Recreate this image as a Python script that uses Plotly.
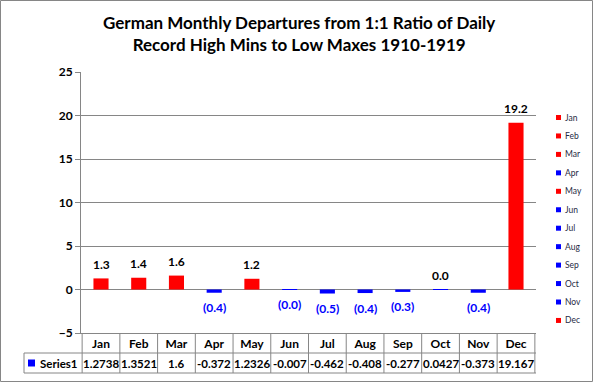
import plotly.graph_objects as go

# ---- data ----
months = ["Jan", "Feb", "Mar", "Apr", "May", "Jun", "Jul", "Aug", "Sep", "Oct", "Nov", "Dec"]
values = [1.2738, 1.3521, 1.6, -0.372, 1.2326, -0.007, -0.462, -0.408, -0.277, 0.0427, -0.373, 19.167]
series_name = "Series1"
y_ticks = [-5, 0, 5, 10, 15, 20, 25]
title_text = "German Monthly Departures from 1:1 Ratio of Daily<br>Record High Mins to Low Maxes 1910-1919"

# ---- styles ----
RED, BLUE = "#FF0000", "#0000FF"
bar_colors = [RED, RED, RED, BLUE, RED, BLUE, BLUE, BLUE, BLUE, BLUE, BLUE, RED]
GRID = "#868686"
FONT = "Lato"

W, H = 593, 382
L, R, T, B = 81, 57, 72, 49
PW, PH = W - L - R, H - T - B


def xp(px):
    return (px - L) / PW


def yp(py):
    return (H - B - py) / PH


def label(v):
    return f"{v:.1f}" if v >= 0 else f"({abs(v):.1f})"


fig = go.Figure()
fig.add_trace(go.Bar(x=months, y=values, marker_color=bar_colors, marker_line_width=0,
                     width=0.4, showlegend=False, hoverinfo="x+y"))

annotations = []
shapes = []

# title
annotations.append(dict(x=xp(298.5), y=yp(33), xref="paper", yref="paper", text=title_text,
                        showarrow=False, xanchor="center", yanchor="middle",
                        font=dict(family=FONT, size=17, weight="bold", color="#000000")))

# data labels
for m, v in zip(months, values):
    annotations.append(dict(x=m, y=v, xref="x", yref="y", text=label(v), showarrow=False,
                            yanchor="middle", yshift=14 if v >= 0 else -15,
                            font=dict(family=FONT, size=12, weight="bold",
                                      color="#000000" if v >= 0 else BLUE)))

# data table: value row
row_top, row_mid, row_bot, hdr_top = 353, 363, 373, 333
for m, v in zip(months, values):
    annotations.append(dict(x=m, y=yp(row_mid), xref="x", yref="paper", text=str(v),
                            showarrow=False, yanchor="middle",
                            font=dict(family=FONT, size=11.5, weight="bold", color="#000000")))
annotations.append(dict(x=xp(38), y=yp(row_mid), xref="paper", yref="paper", text=series_name,
                        showarrow=False, xanchor="left", yanchor="middle",
                        font=dict(family=FONT, size=11.5, weight="bold", color="#000000")))
shapes.append(dict(type="rect", xref="paper", yref="paper", x0=xp(28), x1=xp(35),
                   y0=yp(359.5), y1=yp(366.5), fillcolor=BLUE, line_width=0))

# table grid lines
for i in range(len(months) + 1):
    shapes.append(dict(type="line", xref="x", yref="paper", x0=i - 0.5, x1=i - 0.5,
                       y0=yp(hdr_top), y1=yp(row_bot), line=dict(color=GRID, width=1)))
for yy in (row_top, row_bot):
    shapes.append(dict(type="line", xref="paper", yref="paper", x0=xp(24), x1=1,
                       y0=yp(yy), y1=yp(yy), line=dict(color=GRID, width=1)))
shapes.append(dict(type="line", xref="paper", yref="paper", x0=xp(24), x1=xp(24),
                   y0=yp(row_top), y1=yp(row_bot), line=dict(color=GRID, width=1)))

# legend (one entry per data point)
for i, (m, c) in enumerate(zip(months, bar_colors)):
    cy = 117.5 + i * 18.45
    shapes.append(dict(type="rect", xref="paper", yref="paper", x0=xp(556), x1=xp(561),
                       y0=yp(cy - 2.5), y1=yp(cy + 2.5), fillcolor=c, line_width=0))
    annotations.append(dict(x=xp(562.5), y=yp(cy), xref="paper", yref="paper", text=m,
                            showarrow=False, xanchor="left", yanchor="middle",
                            font=dict(family=FONT, size=8.5, color="#1F2A44")))

# outer border
shapes.append(dict(type="rect", xref="paper", yref="paper", x0=xp(0.5), x1=xp(592.5),
                   y0=yp(0.5), y1=yp(381.5), line=dict(color=GRID, width=1),
                   fillcolor="rgba(0,0,0,0)"))

fig.update_layout(
    width=W, height=H,
    margin=dict(l=L, r=R, t=T, b=B, pad=0),
    paper_bgcolor="white", plot_bgcolor="white",
    xaxis=dict(type="category", showgrid=False, showline=True, linecolor=GRID, linewidth=1,
               ticks="", tickfont=dict(family=FONT, size=12, weight="bold", color="#000000"),
               ticklabelstandoff=0),
    yaxis=dict(range=[-5, 25], tickvals=y_ticks, showgrid=True, gridcolor=GRID, gridwidth=1,
               zeroline=False, showline=True, linecolor=GRID, linewidth=1,
               ticks="outside", ticklen=5, tickcolor=GRID,
               tickfont=dict(family=FONT, size=12, weight="bold", color="#000000")),
    annotations=annotations, shapes=shapes, showlegend=False, bargap=0.6,
)

fig.write_html("out.html", config={"displayModeBar": False},
               post_script="document.body.style.margin='0';document.body.style.padding='0';")
